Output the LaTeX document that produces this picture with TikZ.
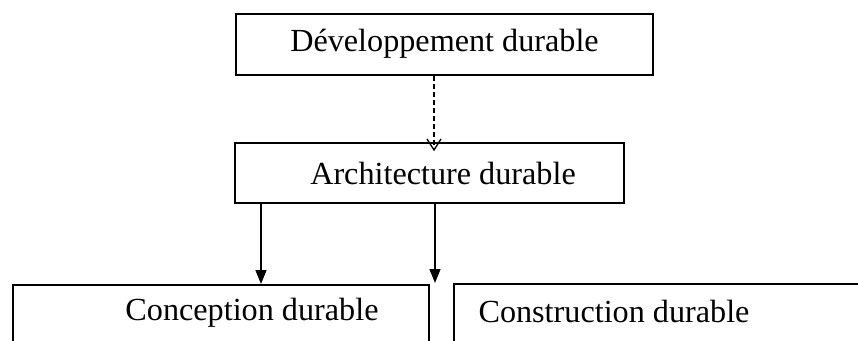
\documentclass[tikz,border=0pt]{standalone}
\usepackage{fontspec}
\setmainfont{Liberation Serif}
\usetikzlibrary{arrows.meta}
\begin{document}
\begin{tikzpicture}[x=1pt,y=-1pt,
  boxst/.style={draw, line width=1.5pt, inner sep=0pt, anchor=north west},
  txt/.style={font=\fontsize{32.2}{38}\selectfont, inner sep=0pt},
  conn/.style={line width=1.4pt}]
\useasboundingbox (0,0) rectangle (858,340);
\clip (0,0) rectangle (858,340);
\node[boxst, minimum width=417pt, minimum height=61pt] (dev) at (235,13) {};
\node[txt] (devt) at (444.5,44) {Développement durable};
\node[boxst, minimum width=389pt, minimum height=60pt] (arch) at (234,142) {};
\node[txt] (archt) at (443,173) {Architecture durable};
\node[boxst, minimum width=416pt, minimum height=90pt] (conc) at (12,284) {};
\node[txt] (conct) at (252,313) {Conception durable};
\node[boxst, minimum width=430pt, minimum height=90pt] (cons) at (453,283) {};
\node[txt] (const) at (614,311) {Construction durable};
\coordinate (dtip) at (434,150);
\draw[line width=1.3pt, dash pattern=on 5pt off 3pt]
  (dev.south -| dtip) -- (dtip);
\draw[line width=1.3pt, line join=miter] ([shift={(-7,-11)}]dtip) -- (dtip) -- ([shift={(7,-11)}]dtip);
\draw[conn, -{Triangle[length=14pt,width=11pt]}]
  (arch.south -| 261,0) -- (conc.north -| 261,0);
\draw[conn, -{Triangle[length=14pt,width=11pt]}]
  (arch.south -| 435,0) -- (cons.north -| 435,0);
\end{tikzpicture}
\end{document}
